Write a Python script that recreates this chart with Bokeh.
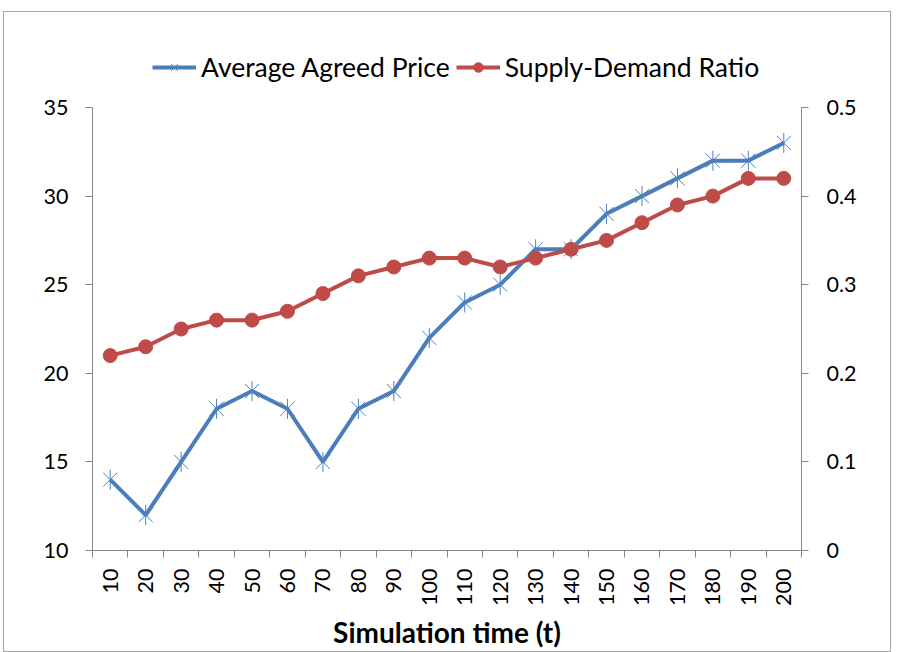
from math import pi
from bokeh.plotting import figure
from bokeh.models import (Range1d, LinearAxis, FixedTicker, Legend, LegendItem)
from bokeh.embed import file_html
from bokeh.resources import INLINE

# ---- data ----
times = ["10", "20", "30", "40", "50", "60", "70", "80", "90", "100",
         "110", "120", "130", "140", "150", "160", "170", "180", "190", "200"]
avg_price = [14, 12, 15, 18, 19, 18, 15, 18, 19, 22,
             24, 25, 27, 27, 29, 30, 31, 32, 32, 33]
supply_demand = [0.22, 0.23, 0.25, 0.26, 0.26, 0.27, 0.29, 0.31, 0.32, 0.33,
                 0.33, 0.32, 0.33, 0.34, 0.35, 0.37, 0.39, 0.40, 0.42, 0.42]
left_ticks = [10, 15, 20, 25, 30, 35]
right_ticks = [0, 0.1, 0.2, 0.3, 0.4, 0.5]
left_lim = (10, 35)
right_lim = (0, 0.5)

n = len(times)
xs = [i + 0.5 for i in range(n)]          # category centres
bounds = [i for i in range(n + 1)]         # category boundaries

FONT = "Lato"
AXIS_COL = "#868686"
BLUE = "#4A7EBB"
BLUE_M = "#4F81BD"
RED = "#BE4B48"
TICK_FS = "21.5px"

# plotting area 443 px high for the axis span; frame extended upward to hold legend
AXIS_PX = 443
FRAME_PX = 530
scale = FRAME_PX / AXIS_PX
y_end = left_lim[0] + (left_lim[1] - left_lim[0]) * scale
r_end = right_lim[0] + (right_lim[1] - right_lim[0]) * scale

p = figure(frame_width=709, frame_height=FRAME_PX, output_backend="svg",
           toolbar_location=None,
           x_range=Range1d(0, n), y_range=Range1d(left_lim[0], y_end),
           min_border_left=88, min_border_right=89, min_border_top=8,
           min_border_bottom=99)
p.styles = {"border": "1px solid #A6A6A6", "margin": "11px 0px 0px 3px"}
p.outline_line_color = None
p.xgrid.visible = False
p.ygrid.visible = False
p.extra_y_ranges = {"ratio": Range1d(right_lim[0], r_end)}

# x axis
xa = p.xaxis[0]
xa.ticker = FixedTicker(ticks=xs, minor_ticks=bounds)
xa.major_label_overrides = {x: t for x, t in zip(xs, times)}
xa.major_label_orientation = pi / 2
xa.major_tick_line_color = None
xa.minor_tick_line_color = AXIS_COL
xa.minor_tick_out = 7
xa.minor_tick_in = 0
xa.axis_line_color = AXIS_COL
xa.major_label_standoff = 11
xa.major_label_text_font = FONT
xa.major_label_text_font_size = TICK_FS
xa.major_label_text_color = "black"
xa.axis_label = "Simulation time (t)"
xa.axis_label_text_font = FONT
xa.axis_label_text_font_style = "bold"
xa.axis_label_text_font_size = "28px"
xa.axis_label_text_color = "black"
xa.axis_label_standoff = 6

# left axis
ya = p.yaxis[0]
ya.ticker = FixedTicker(ticks=left_ticks)
ya.bounds = left_lim
ya.axis_line_color = AXIS_COL
ya.major_tick_line_color = AXIS_COL
ya.major_tick_out = 7
ya.major_tick_in = 0
ya.minor_tick_line_color = None
ya.major_label_standoff = 17
ya.major_label_text_font = FONT
ya.major_label_text_font_size = TICK_FS
ya.major_label_text_color = "black"

# right axis
ra = LinearAxis(y_range_name="ratio", ticker=FixedTicker(ticks=right_ticks))
ra.bounds = right_lim
ra.major_label_overrides = {t: ("0" if t == 0 else str(t)) for t in right_ticks}
ra.axis_line_color = AXIS_COL
ra.major_tick_line_color = AXIS_COL
ra.major_tick_out = 7
ra.major_tick_in = 0
ra.minor_tick_line_color = None
ra.major_label_standoff = 18
ra.major_label_text_font = FONT
ra.major_label_text_font_size = TICK_FS
ra.major_label_text_color = "black"
p.add_layout(ra, "right")

# series
pl = p.line(xs, avg_price, line_color=BLUE, line_width=4)
px = p.scatter(xs, avg_price, marker="x", size=20, line_color=BLUE_M, line_width=1)
pd_ = p.scatter(xs, avg_price, marker="dash", angle=pi / 2, size=20,
                line_color=BLUE_M, line_width=1)

rl = p.line(xs, supply_demand, line_color=RED, line_width=4, y_range_name="ratio")
rc = p.scatter(xs, supply_demand, marker="circle", size=14, fill_color=RED,
               line_color=RED, y_range_name="ratio")

legend = Legend(items=[
    LegendItem(label="Average Agreed Price", renderers=[pl, px, pd_]),
    LegendItem(label="Supply-Demand Ratio", renderers=[rl, rc]),
], orientation="horizontal", location=(60, 467))
legend.border_line_color = None
legend.background_fill_alpha = 0
legend.label_text_font = FONT
legend.label_text_font_size = "26.5px"
legend.label_text_color = "black"
legend.glyph_width = 44
legend.glyph_height = 24
legend.label_standoff = 5
legend.spacing = 6
legend.padding = 4
p.add_layout(legend, "center")

open("out.html", "w").write(file_html(p, INLINE))
